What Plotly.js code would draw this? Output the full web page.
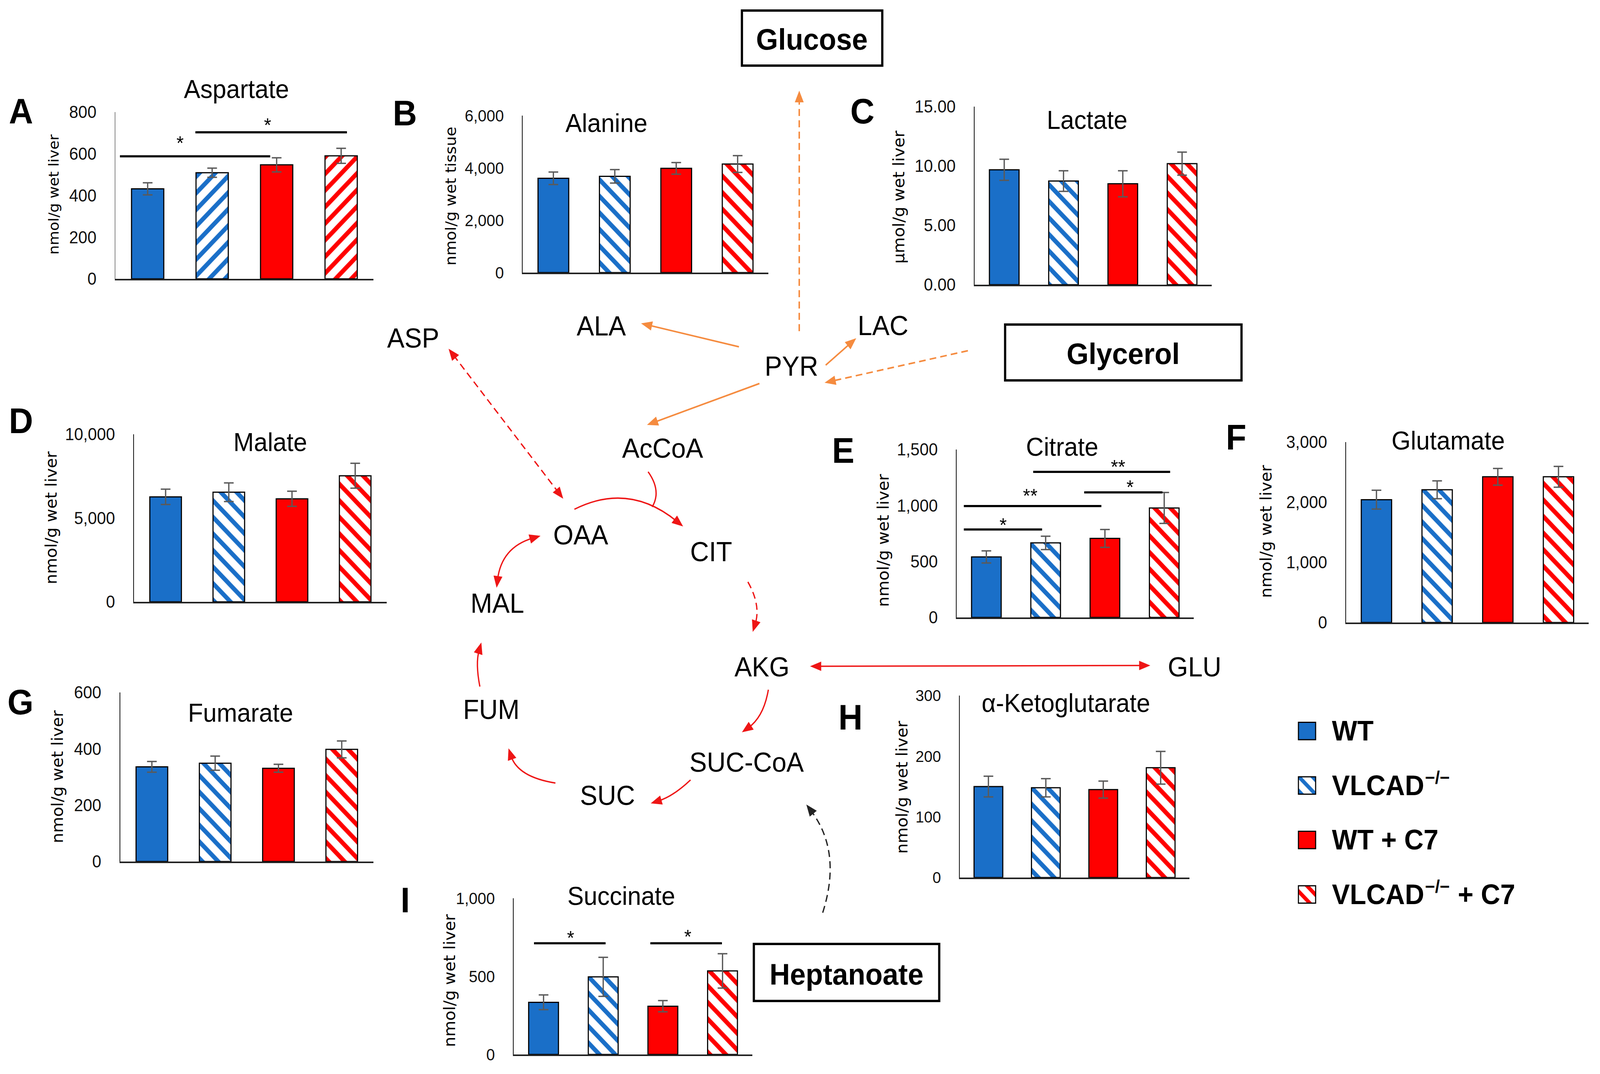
<!DOCTYPE html>
<html><head><meta charset="utf-8">
<script src="https://cdn.plot.ly/plotly-3.0.1.min.js"></script>
<style>html,body{margin:0;padding:0;background:#fff;overflow:hidden;}#fig{width:4298px;height:2750px;transform-origin:0 0;}</style>
</head><body><div id="fig"></div>
<script>
// ---------------- DATA ----------------
const groups = ['WT', 'VLCAD−/−', 'WT + C7', 'VLCAD−/− + C7'];
const groupIndex = [0, 1, 2, 3];

const aspartateMean = [432, 509, 547, 590];
const aspartateErr  = [29, 22, 34, 36];
const alanineMean   = [3605, 3679, 3985, 4148];
const alanineErr    = [240, 257, 222, 321];
const lactateMean   = [9.68, 8.73, 8.50, 10.20];
const lactateErr    = [0.89, 0.87, 1.10, 0.97];
const malateMean    = [6267, 6542, 6150, 7525];
const malateErr     = [458, 558, 450, 742];
const citrateMean   = [541, 666, 706, 978];
const citrateErr    = [54, 60, 80, 138];
const glutamateMean = [2043, 2207, 2423, 2423];
const glutamateErr  = [157, 149, 139, 173];
const fumarateMean  = [336, 349, 331, 398];
const fumarateErr   = [19, 25, 14, 30];
const akgMean       = [150, 148, 145, 181];
const akgErr        = [17, 15, 14, 27];
const succinateMean = [334, 497, 309, 535];
const succinateErr  = [47, 125, 36, 110];

// significance brackets: [from group, to group, level, label, label x, label level]
const aspartateSig = [[-0.43, 1.9, 588, '*', 0.5, 668], [0.74, 3.09, 703, '*', 1.86, 755]];
const citrateSig = [[-0.38, 0.94, 786, '*', 0.28, 857], [-0.38, 1.94, 995, '**', 0.74, 1120],
                    [1.65, 2.97, 1117, '*', 2.42, 1195], [0.79, 3.1, 1300, '**', 2.22, 1378]];
const succinateSig = [[-0.16, 1.04, 712, '*', 0.45, 770], [1.79, 2.99, 712, '*', 2.42, 778]];

const legendSwatch = [1, 1, 1, 1];

// ---------------- STYLE / LAYOUT ----------------
const W = 4298, H = 2750;
const FONT = 'Liberation Sans, Arial, sans-serif';
const TFONT = 'DejaVu Sans, sans-serif';
const BLUE = '#1a6fc8', RED = '#ff0000', ORANGE = '#f58b3f', ARED = '#ee1515';
const barColors = [BLUE, BLUE, RED, RED];

const panels = [
  {title:'Aspartate', mean:aspartateMean, err:aspartateErr, ymax:800, dtick:200, fmt:',', hatch:'/',
   box:[310,287,1003,714], tpos:[635,228], yt:'nmol/g wet liver', ytpos:[144,498], yts:38, letter:'A', lpos:[56,285], ts:44, sig:aspartateSig},
  {title:'Alanine', mean:alanineMean, err:alanineErr, ymax:6000, dtick:2000, fmt:',', hatch:'\\',
   box:[1404,296,2064,698], tpos:[1629,315], yt:'nmol/g wet tissue', ytpos:[1211,502], yts:40, letter:'B', lpos:[1087,290], ts:42},
  {title:'Lactate', mean:lactateMean, err:lactateErr, ymax:15, dtick:5, fmt:'.2f', hatch:'\\',
   box:[2618,273,3255,729], tpos:[2920,307], yt:'µmol/g wet liver', ytpos:[2415,505], yts:42, letter:'C', lpos:[2316,285], ts:44},
  {title:'Malate', mean:malateMean, err:malateErr, ymax:10000, dtick:5000, fmt:',', hatch:'\\',
   box:[360,1112,1039,1541], tpos:[726,1132], yt:'nmol/g wet liver', ytpos:[137,1326], yts:42, letter:'D', lpos:[56,1078], ts:44},
  {title:'Citrate', mean:citrateMean, err:citrateErr, ymax:1500, dtick:500, fmt:',', hatch:'\\',
   box:[2570,1151,3207,1581], tpos:[2853,1144], yt:'nmol/g wet liver', ytpos:[2372,1384], yts:42, letter:'E', lpos:[2265,1154], ts:44, sig:citrateSig},
  {title:'Glutamate', mean:glutamateMean, err:glutamateErr, ymax:3000, dtick:1000, fmt:',', hatch:'\\',
   box:[3616,1132,4268,1594], tpos:[3890,1128], yt:'nmol/g wet liver', ytpos:[3401,1361], yts:42, letter:'F', lpos:[3320,1120], ts:44},
  {title:'Fumarate', mean:fumarateMean, err:fumarateErr, ymax:600, dtick:200, fmt:',', hatch:'\\',
   box:[323,1773,1003,2206], tpos:[646,1825], yt:'nmol/g wet liver', ytpos:[154,1989], yts:42, letter:'G', lpos:[55,1798], ts:44},
  {title:'α-Ketoglutarate', mean:akgMean, err:akgErr, ymax:300, dtick:100, fmt:',', hatch:'\\',
   box:[2578,1781,3195,2247], tpos:[2863,1800], yt:'nmol/g wet liver', ytpos:[2423,2016], yts:42, letter:'H', lpos:[2284,1837], ts:41},
  {title:'Succinate', mean:succinateMean, err:succinateErr, ymax:1000, dtick:500, fmt:',', hatch:'\\',
   box:[1380,2300,2021,2700], tpos:[1669,2294], yt:'nmol/g wet liver', ytpos:[1207,2511], yts:42, letter:'I', lpos:[1088,2305], ts:42, sig:succinateSig}
];

const data = [];
const layout = {
  width: W, height: H, margin:{l:0,r:0,t:0,b:0}, showlegend:false,
  paper_bgcolor:'#fff', plot_bgcolor:'#fff', bargap:0.5,
  font:{family:FONT, color:'#000'}, annotations:[], shapes:[]
};
const ann = layout.annotations, shapes = layout.shapes;
const px = x => x / W, py = y => 1 - y / H;

function addText(text, x, y, size, opts) {
  opts = opts || {};
  ann.push(Object.assign({text:text, x:px(x), y:py(y), xref:'paper', yref:'paper', showarrow:false,
    xanchor:'center', yanchor:'middle', font:{family:FONT, size:size, color:'#000'}}, opts));
}

panels.forEach((p, i) => {
  const n = i + 1, sx = n === 1 ? '' : String(n);
  const b = p.box;
  layout['xaxis' + sx] = {domain:[px(b[0]), px(b[2])], anchor:'y' + sx, range:[-0.5, 3.5],
    showline:true, linecolor:'#222', linewidth:4, showticklabels:false, ticks:'', showgrid:false, zeroline:false, fixedrange:true};
  layout['yaxis' + sx] = {domain:[py(b[3]), py(b[1])], anchor:'x' + sx, range:[0, p.ymax], tick0:0, dtick:p.dtick,
    tickformat:p.fmt, showline:true, linecolor:'#111', linewidth:2, ticks:'', ticklabelstandoff:40,
    tickfont:{family:FONT, size:p.ts, color:'#111'}, showgrid:false, zeroline:false, fixedrange:true};
  data.push({type:'bar', x:groupIndex, y:p.mean, name:p.title, hovertext:groups, xaxis:'x' + sx, yaxis:'y' + sx,
    error_y:{type:'data', array:p.err, visible:true, color:'#5a5a5a', thickness:3.5, width:13},
    marker:{color:barColors, line:{color:'#000', width:3},
      pattern:{shape:['', p.hatch, '', p.hatch], fgcolor:barColors, bgcolor:'white', size:30, solidity:0.38, fillmode:'replace'}}});
  addText(p.title, p.tpos[0], p.tpos[1], 66);
  addText(p.yt, p.ytpos[0], p.ytpos[1], p.yts, {textangle:-90, font:{family:TFONT, size:p.yts, color:'#000'}});
  addText('<b>' + p.letter + '</b>', p.lpos[0], p.lpos[1], 90);
  (p.sig || []).forEach(s => {
    shapes.push({type:'line', xref:'x' + sx, yref:'y' + sx, x0:s[0], x1:s[1], y0:s[2], y1:s[2], line:{color:'#000', width:5.5}});
    ann.push({text:s[3], xref:'x' + sx, yref:'y' + sx, x:s[4], y:s[5], showarrow:false, xanchor:'center', yanchor:'middle',
      yshift:-10, font:{family:FONT, size:50, color:'#000'}});
  });
});

// legend swatches drawn as a small bar subplot
layout.xaxis10 = {domain:[px(3486), px(3536)], anchor:'y10', range:[-0.04, 1.04], visible:false, fixedrange:true};
layout.yaxis10 = {domain:[py(2360), py(1802)], anchor:'x10', range:[3.5, -0.5], visible:false, fixedrange:true};
data.push({type:'bar', orientation:'h', y:groupIndex, x:legendSwatch, width:0.32, xaxis:'x10', yaxis:'y10', hovertext:groups,
  marker:{color:barColors, line:{color:'#000', width:3},
    pattern:{shape:['', '\\', '', '\\'], fgcolor:barColors, bgcolor:'white', size:26, solidity:0.38, fillmode:'replace'}}});
const legendY = [1871, 2011, 2150, 2290];
const LX = 3576, LS = 72;
addText('<b>WT</b>', LX, legendY[0], LS, {xanchor:'left'});
addText('<b>VLCAD</b>', LX, legendY[1], LS, {xanchor:'left'});
addText('<b>−/−</b>', LX + 250, legendY[1] - 20, 46, {xanchor:'left'});
addText('<b>WT + C7</b>', LX, legendY[2], LS, {xanchor:'left'});
addText('<b>VLCAD</b>', LX, legendY[3], LS, {xanchor:'left'});
addText('<b>−/−</b>', LX + 250, legendY[3] - 20, 46, {xanchor:'left'});
addText('<b>+ C7</b>', LX + 338, legendY[3], LS, {xanchor:'left'});

// ---------------- PATHWAY DIAGRAM ----------------
const P = (x, y) => px(x).toFixed(5) + ',' + py(y).toFixed(5);
function head(tx, ty, fx, fy, color, L, Wd) {
  let dx = tx - fx, dy = ty - fy; const n = Math.hypot(dx, dy); dx /= n; dy /= n;
  const bx = tx - dx * L, by = ty - dy * L, qx = -dy * Wd / 2, qy = dx * Wd / 2;
  shapes.push({type:'path', xref:'paper', yref:'paper', layer:'above', fillcolor:color, line:{width:0, color:color},
    path:'M ' + P(tx, ty) + ' L ' + P(bx + qx, by + qy) + ' L ' + P(bx - qx, by - qy) + ' Z'});
  return [bx + dx * L * 0.3, by + dy * L * 0.3];
}
function arrow(S, M, E, o) {
  const color = o.color, L = o.L || 30, Wd = o.Wd || 24;
  const C = M ? [2 * M[0] - (S[0] + E[0]) / 2, 2 * M[1] - (S[1] + E[1]) / 2] : null;
  let s = S, e = E;
  if (o.headEnd !== false) { const f = C || S; e = head(E[0], E[1], f[0], f[1], color, L, Wd); }
  if (o.headStart) { const f = C || E; s = head(S[0], S[1], f[0], f[1], color, L, Wd); }
  const path = C ? 'M ' + P(s[0], s[1]) + ' Q ' + P(C[0], C[1]) + ' ' + P(e[0], e[1])
                 : 'M ' + P(s[0], s[1]) + ' L ' + P(e[0], e[1]);
  shapes.push({type:'path', xref:'paper', yref:'paper', layer:'above', path:path,
    line:{color:color, width:o.width || 4, dash:o.dash || 'solid'}});
}
const DASH = '18px,11px';
arrow([2147, 848], null, [2147, 232], {color:ORANGE, width:4, dash:DASH});
arrow([1985, 888], null, [1722, 828], {color:ORANGE, width:4});
arrow([2218, 935], null, [2300, 866], {color:ORANGE, width:4});
arrow([2600, 898], null, [2215, 980], {color:ORANGE, width:4, dash:DASH});
arrow([2040, 982], null, [1738, 1088], {color:ORANGE, width:4});
arrow([1205, 893], null, [1513, 1277], {color:ARED, width:3.5, dash:DASH, headStart:true});
arrow([1543, 1304], [1689, 1280], [1835, 1348], {color:ARED, width:3.5});
arrow([1741, 1208], [1762, 1255], [1752, 1298], {color:ARED, width:3.5, headEnd:false});
arrow([2009, 1490], [2030, 1552], [2022, 1618], {color:ARED, width:3.5, dash:DASH});
arrow([2064, 1766], [2040, 1828], [1993, 1875], {color:ARED, width:3.5});
arrow([1855, 1997], [1805, 2033], [1748, 2057], {color:ARED, width:3.5});
arrow([1492, 2005], [1410, 1975], [1366, 1916], {color:ARED, width:3.5});
arrow([1289, 1758], [1284, 1700], [1293, 1645], {color:ARED, width:3.5});
arrow([1334, 1505], [1370, 1420], [1452, 1372], {color:ARED, width:3.5, headStart:true});
arrow([2176, 1706], null, [3090, 1704], {color:ARED, width:3.5, headStart:true});
arrow([2210, 2337], [2225, 2190], [2166, 2060], {color:'#222', width:3.5, dash:DASH});

// boxes
[[1993, 27, 2370, 168], [2700, 831, 3335, 974], [2025, 2417, 2523, 2563]].forEach(r => {
  shapes.push({type:'rect', xref:'paper', yref:'paper', x0:px(r[0]), x1:px(r[2]), y0:py(r[3]), y1:py(r[1]),
    line:{color:'#000', width:6}, fillcolor:'rgba(0,0,0,0)'});
});
addText('<b>Glucose</b>', 2181, 100, 76);
addText('<b>Glycerol</b>', 3017, 905, 76);
addText('<b>Heptanoate</b>', 2274, 2494, 76);

const nodes = [['ASP', 1110, 866], ['ALA', 1615, 835], ['LAC', 2372, 834], ['PYR', 2126, 938], ['AcCoA', 1780, 1148],
  ['OAA', 1560, 1370], ['CIT', 1910, 1413], ['MAL', 1336, 1545], ['AKG', 2047, 1708], ['GLU', 3209, 1708],
  ['FUM', 1320, 1817], ['SUC-CoA', 2006, 1952], ['SUC', 1632, 2037]];
nodes.forEach(nd => addText(nd[0], nd[1], nd[2], 70));

// fit the figure to the actual viewport (the page is photographed at the browser's viewport size)
const fig = document.getElementById('fig');
const kx = window.innerWidth / W, ky = window.innerHeight / H;
if (Math.abs(kx - 1) > 0.002 || Math.abs(ky - 1) > 0.002) {
  fig.style.transform = 'scale(' + kx + ',' + ky + ')';
}
Plotly.newPlot('fig', data, layout, {staticPlot:true, displayModeBar:false});
</script></body></html>
